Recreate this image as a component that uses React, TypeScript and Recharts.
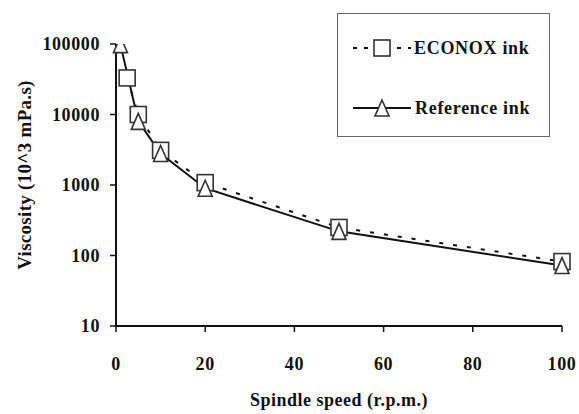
import React from "react";
import { LineChart, Line, XAxis, YAxis, Legend } from "recharts";

const econoxSpeeds = [2.5, 5, 10, 20, 50, 100];
const econoxViscosity = [33000, 10000, 3100, 1080, 250, 82];
const referenceSpeeds = [1, 5, 10, 20, 50, 100];
const referenceViscosity = [98000, 8000, 2800, 900, 220, 72];
const xTicks = [0, 20, 40, 60, 80, 100];
const yTicks = [10, 100, 1000, 10000, 100000];

const econoxData = econoxSpeeds.map((x, i) => ({ x, y: econoxViscosity[i] }));
const referenceData = referenceSpeeds.map((x, i) => ({ x, y: referenceViscosity[i] }));

const FONT = "Liberation Serif";

const SquareDot = (props: any) => {
  const { cx, cy, index } = props;
  if (cx == null || cy == null) return <g key={index} />;
  const s = 16;
  return (
    <rect key={index} x={cx - s / 2} y={cy - s / 2} width={s} height={s}
      fill="#fff" stroke="#333" strokeWidth={1.6} />
  );
};

const TriangleDot = (props: any) => {
  const { cx, cy, index } = props;
  if (cx == null || cy == null) return <g key={index} />;
  const w = 14, h = 16;
  return (
    <polygon key={index}
      points={`${cx},${cy - h / 2} ${cx + w / 2},${cy + h / 2} ${cx - w / 2},${cy + h / 2}`}
      fill="#fff" stroke="#333" strokeWidth={1.6} />
  );
};

const legendText = { fontFamily: FONT, fontSize: 18, fontWeight: "bold", letterSpacing: 0.7 } as const;

const LegendBox = () => (
  <div style={{ position: "absolute", left: 337, top: 13, width: 211, height: 122,
    border: "1.5px solid #666", background: "#fff" }}>
    <svg width={211} height={122} style={{ position: "absolute", left: 0, top: 0 }}>
      <line x1={15} y1={34} x2={73} y2={34} stroke="#111" strokeWidth={2} strokeDasharray="4 7" />
      <rect x={36} y={26} width={16} height={16} fill="#fff" stroke="#333" strokeWidth={1.6} />
      <text x={76} y={40} style={legendText} fill="#111">ECONOX ink</text>
      <line x1={15} y1={94} x2={73} y2={94} stroke="#111" strokeWidth={2} />
      <polygon points="44,86 51,102 37,102" fill="#fff" stroke="#333" strokeWidth={1.6} />
      <text x={77} y={100} style={legendText} fill="#111">Reference ink</text>
    </svg>
  </div>
);

const YLabel = (props: any) => {
  const vb = props.viewBox || {};
  const x = (vb.x ?? 0) + 24;
  const y = (vb.y ?? 0) + (vb.height ?? 0) / 2 - 10;
  return (
    <text x={x} y={y} transform={`rotate(-90, ${x}, ${y})`} textAnchor="middle" dominantBaseline="central"
      fill="#111" style={{ fontFamily: FONT, fontSize: 19, fontWeight: "bold", letterSpacing: 0.3 }}>
      Viscosity (10^3 mPa.s)
    </text>
  );
};

const tickStyle = { fill: "#111", fontSize: 18, fontWeight: "bold", style: { fontFamily: FONT, letterSpacing: 0.6 } };

export default function App() {
  return (
    <div style={{ position: "absolute", left: 0, top: 0, width: 579, height: 414, background: "#fff", fontFamily: FONT }}>
      <LineChart width={579} height={414} margin={{ top: 44, right: 17, bottom: 0, left: 0 }}
        style={{ fontFamily: FONT }}>
        <XAxis type="number" dataKey="x" domain={[0, 100]} ticks={xTicks}
          axisLine={{ stroke: "#111", strokeWidth: 2 }} tickLine={{ stroke: "#111", strokeWidth: 1.5 }}
          tickSize={6} height={88} allowDuplicatedCategory={false}
          tick={tickStyle}
          tickMargin={25}
          label={{ value: "Spindle speed (r.p.m.)", position: "insideBottom", offset: 8,
            style: { fill: "#111", fontFamily: FONT, fontSize: 18, fontWeight: "bold", letterSpacing: 0.5 } }} />
        <YAxis type="number" scale="log" domain={[10, 100000]} ticks={yTicks} allowDataOverflow
          axisLine={{ stroke: "#111", strokeWidth: 2 }} tickLine={{ stroke: "#111", strokeWidth: 1.5 }}
          tickSize={6} width={116} tickMargin={10}
          tick={tickStyle}
          label={{ position: "insideLeft", content: YLabel }} />
        <Legend content={() => null} />
        <Line data={econoxData} dataKey="y" name="ECONOX ink" stroke="#111" strokeWidth={2}
          strokeDasharray="4 10" dot={SquareDot} isAnimationActive={false} />
        <Line data={referenceData} dataKey="y" name="Reference ink" stroke="#111" strokeWidth={2}
          dot={TriangleDot} isAnimationActive={false} />
      </LineChart>
      <LegendBox />
    </div>
  );
}
